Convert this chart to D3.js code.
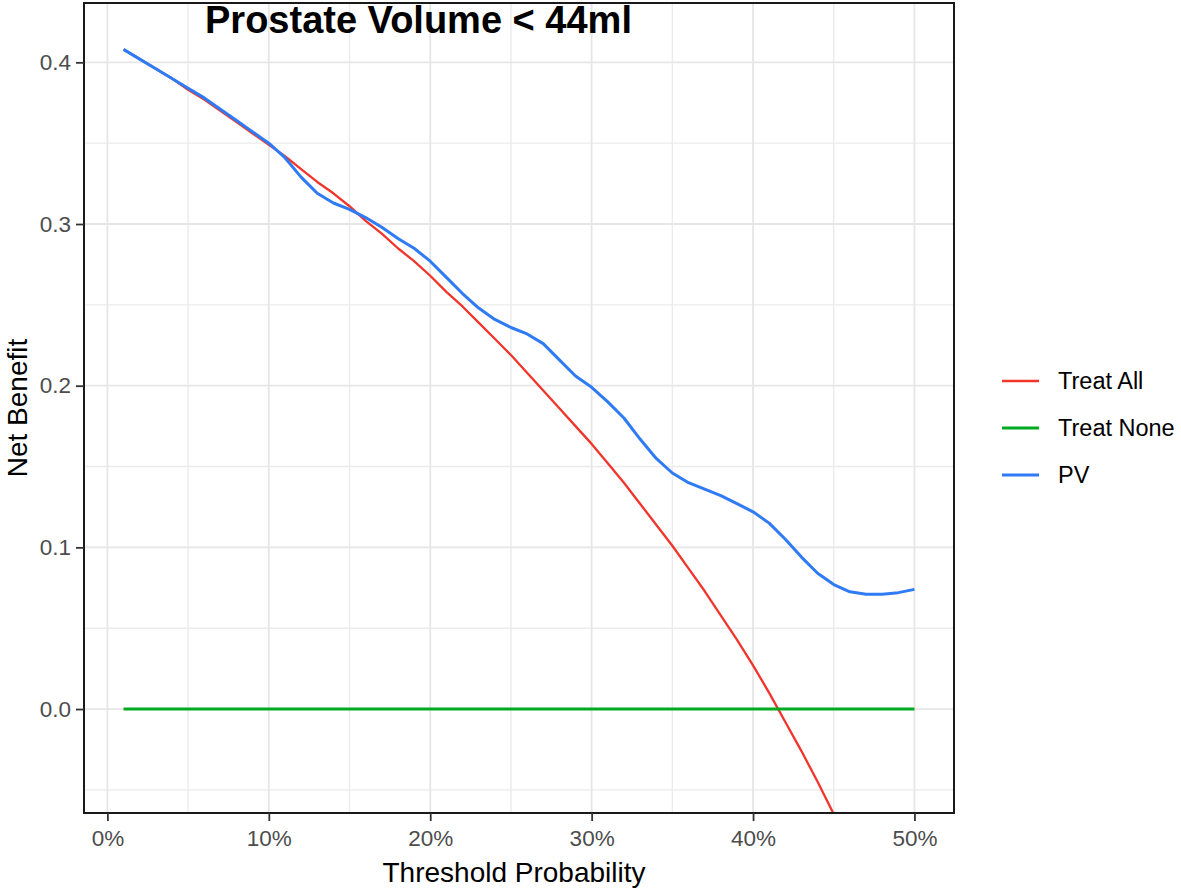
<!DOCTYPE html>
<html>
<head>
<meta charset="utf-8">
<script src="https://cdn.jsdelivr.net/npm/d3@7"></script>
<style>
  body { margin: 0; background: #fff; }
  svg { font-family: "Liberation Sans", Arial, sans-serif; }
</style>
</head>
<body>
<div id="chart"></div>
<script>
// threshold probabilities
var thresholds = [0.01, 0.02, 0.03, 0.04, 0.05, 0.06, 0.07, 0.08, 0.09, 0.10,
                  0.11, 0.12, 0.13, 0.14, 0.15, 0.16, 0.17, 0.18, 0.19, 0.20,
                  0.21, 0.22, 0.23, 0.24, 0.25, 0.26, 0.27, 0.28, 0.29, 0.30,
                  0.31, 0.32, 0.33, 0.34, 0.35, 0.36, 0.37, 0.38, 0.39, 0.40,
                  0.41, 0.42, 0.43, 0.44, 0.45, 0.46, 0.47, 0.48, 0.49, 0.50];

var treatAll = [0.408, 0.402, 0.396, 0.390, 0.383, 0.377, 0.370, 0.363, 0.356, 0.349,
                0.342, 0.334, 0.326, 0.319, 0.311, 0.302, 0.294, 0.285, 0.277, 0.268,
                0.258, 0.249, 0.239, 0.229, 0.219, 0.208, 0.197, 0.186, 0.175, 0.164,
                0.152, 0.140, 0.127, 0.114, 0.101, 0.087, 0.073, 0.058, 0.043, 0.027,
                0.010, -0.008, -0.026, -0.045, -0.065, -0.085, -0.106, -0.127, -0.149, -0.172];

var treatNone = [0, 0, 0, 0, 0, 0, 0, 0, 0, 0,
                 0, 0, 0, 0, 0, 0, 0, 0, 0, 0,
                 0, 0, 0, 0, 0, 0, 0, 0, 0, 0,
                 0, 0, 0, 0, 0, 0, 0, 0, 0, 0,
                 0, 0, 0, 0, 0, 0, 0, 0, 0, 0];

var pv = [0.408, 0.402, 0.396, 0.390, 0.384, 0.378, 0.371, 0.364, 0.357, 0.350,
          0.341, 0.329, 0.319, 0.313, 0.309, 0.304, 0.298, 0.291, 0.285, 0.277,
          0.267, 0.257, 0.248, 0.241, 0.236, 0.232, 0.226, 0.216, 0.206, 0.199,
          0.190, 0.180, 0.167, 0.155, 0.146, 0.140, 0.136, 0.132, 0.127, 0.122,
          0.115, 0.105, 0.094, 0.084, 0.077, 0.0725, 0.071, 0.071, 0.072, 0.074];

var seriesNames = ["Treat All", "Treat None", "PV"];
var xTicks = [0, 0.1, 0.2, 0.3, 0.4, 0.5];
var xMinor = [0.05, 0.15, 0.25, 0.35, 0.45];
var yTicks = [0.0, 0.1, 0.2, 0.3, 0.4];
var yMinor = [-0.05, 0.05, 0.15, 0.25, 0.35];

var width = 1181, height = 892;
var margin = {top: 3, left: 84, bottom: 79, right: 227};
var pw = width - margin.left - margin.right,
    ph = height - margin.top - margin.bottom;

var colors = {"Treat All": "#f2352b", "Treat None": "#00a91f", "PV": "#2f7bf5"};
var widths = {"Treat All": 2.3, "Treat None": 3, "PV": 3};

var x = d3.scaleLinear().domain([-0.0145, 0.5245]).range([0, pw]);
var y = d3.scaleLinear().domain([-0.0643, 0.4367]).range([ph, 0]);

var svg = d3.select("#chart").append("svg")
    .attr("width", width)
    .attr("height", height);

var g = svg.append("g")
    .attr("transform", "translate(" + margin.left + "," + margin.top + ")");

g.append("clipPath").attr("id", "clip")
  .append("rect").attr("width", pw).attr("height", ph);

// grid
g.selectAll(".ymin").data(yMinor).enter().append("line")
    .attr("x1", 0).attr("x2", pw)
    .attr("y1", function (d) { return y(d); }).attr("y2", function (d) { return y(d); })
    .attr("stroke", "#ebebeb").attr("stroke-width", 1.4);
g.selectAll(".xmin").data(xMinor).enter().append("line")
    .attr("y1", 0).attr("y2", ph)
    .attr("x1", function (d) { return x(d); }).attr("x2", function (d) { return x(d); })
    .attr("stroke", "#ebebeb").attr("stroke-width", 1.4);
g.selectAll(".ymaj").data(yTicks).enter().append("line")
    .attr("x1", 0).attr("x2", pw)
    .attr("y1", function (d) { return y(d); }).attr("y2", function (d) { return y(d); })
    .attr("stroke", "#e6e6e6").attr("stroke-width", 1.8);
g.selectAll(".xmaj").data(xTicks).enter().append("line")
    .attr("y1", 0).attr("y2", ph)
    .attr("x1", function (d) { return x(d); }).attr("x2", function (d) { return x(d); })
    .attr("stroke", "#e6e6e6").attr("stroke-width", 1.8);

// lines
var series = [
    {name: "Treat All", values: treatAll},
    {name: "Treat None", values: treatNone},
    {name: "PV", values: pv}
];

var line = d3.line()
    .x(function (d) { return x(d[0]); })
    .y(function (d) { return y(d[1]); });

g.append("g").attr("clip-path", "url(#clip)")
  .selectAll("path").data(series).enter().append("path")
    .attr("d", function (s) { return line(d3.zip(thresholds, s.values)); })
    .attr("fill", "none")
    .attr("stroke", function (s) { return colors[s.name]; })
    .attr("stroke-width", function (s) { return widths[s.name]; })
    .attr("stroke-linejoin", "round");

// panel border
g.append("rect")
    .attr("width", pw).attr("height", ph)
    .attr("fill", "none").attr("stroke", "#1a1a1a").attr("stroke-width", 2);

// axes
var xAxis = g.append("g")
    .attr("transform", "translate(0," + ph + ")")
    .call(d3.axisBottom(x).tickValues(xTicks).tickSize(8).tickPadding(9)
          .tickFormat(function (d) { return Math.round(d * 100) + "%"; }));
var yAxis = g.append("g")
    .call(d3.axisLeft(y).tickValues(yTicks).tickSize(8).tickPadding(5)
          .tickFormat(d3.format(".1f")));

[xAxis, yAxis].forEach(function (a) {
    a.select(".domain").remove();
    a.selectAll(".tick line").attr("stroke", "#333").attr("stroke-width", 1.8);
    a.selectAll(".tick text").attr("fill", "#4d4d4d").style("font-size", "22.5px");
});

// title inside panel
svg.append("text")
    .attr("x", 205).attr("y", 33)
    .style("font-size", "38px").style("font-weight", "bold")
    .attr("fill", "#000")
    .text("Prostate Volume < 44ml");

// axis titles
svg.append("text")
    .attr("x", margin.left + pw / 2 - 5).attr("y", 882)
    .attr("text-anchor", "middle")
    .style("font-size", "28px")
    .text("Threshold Probability");

svg.append("text")
    .attr("transform", "translate(27," + (margin.top + ph / 2) + ") rotate(-90)")
    .attr("text-anchor", "middle")
    .style("font-size", "28px")
    .text("Net Benefit");

// legend
var legend = svg.append("g").attr("transform", "translate(1002,381)");
var items = legend.selectAll("g").data(seriesNames).enter().append("g")
    .attr("transform", function (d, i) { return "translate(0," + (i * 47) + ")"; });
items.append("line")
    .attr("x1", 0).attr("x2", 37)
    .attr("stroke", function (d) { return colors[d]; })
    .attr("stroke-width", function (d) { return d === "Treat All" ? 2.5 : 3; });
items.append("text")
    .attr("x", 56).attr("y", 8)
    .style("font-size", "23.5px")
    .text(function (d) { return d; });
</script>
</body>
</html>
